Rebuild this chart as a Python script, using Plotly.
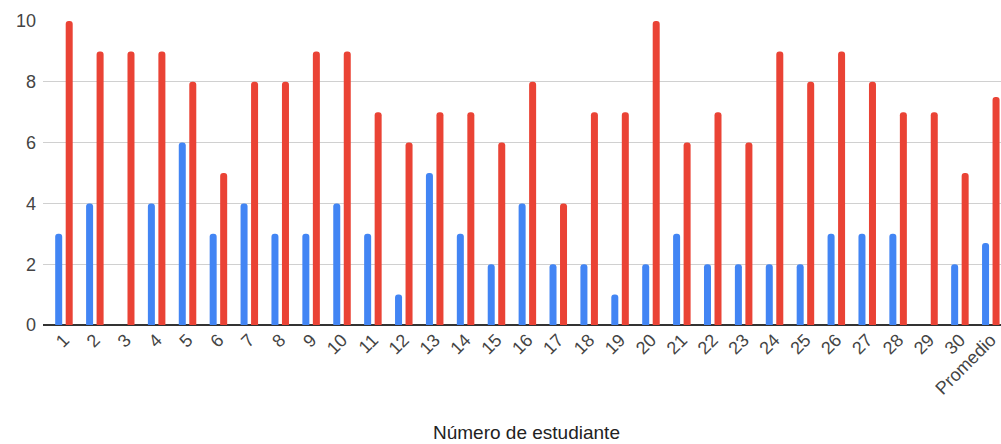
import plotly.graph_objects as go

# Student numbers plus the class average column
estudiantes = [str(i) for i in range(1, 31)] + ["Promedio"]

# Scores per student (two series)
serie_azul = [3, 4, 0, 4, 6, 3, 4, 3, 3, 4,
              3, 1, 5, 3, 2, 4, 2, 2, 1, 2,
              3, 2, 2, 2, 2, 3, 3, 3, 0, 2, 2.7]
serie_roja = [10, 9, 9, 9, 8, 5, 8, 8, 9, 9,
              7, 6, 7, 7, 6, 8, 4, 7, 7, 10,
              6, 7, 6, 9, 8, 9, 8, 7, 7, 5, 7.5]

y_ticks = [0, 2, 4, 6, 8, 10]

AZUL = "#4285F4"
ROJO = "#EA4335"

fig = go.Figure()
fig.add_trace(go.Bar(x=estudiantes, y=serie_azul, marker_color=AZUL,
                     marker_line_width=0, showlegend=False))
fig.add_trace(go.Bar(x=estudiantes, y=serie_roja, marker_color=ROJO,
                     marker_line_width=0, showlegend=False))

fig.update_layout(
    width=1001, height=444,
    margin=dict(l=43, r=0, t=21, b=119),
    paper_bgcolor="white", plot_bgcolor="white",
    barmode="group", bargap=0.32, bargroupgap=0.333,
    barcornerradius=3.5,
    font=dict(family="Arial, Liberation Sans, sans-serif", color="#444444"),
)

fig.update_xaxes(
    type="category",
    range=[-0.678, 30.33],
    tickangle=-45,
    tickfont=dict(size=18, color="#444444"),
    showgrid=False,
    showline=False,
    ticks="",
    zeroline=False,
)

fig.update_yaxes(
    range=[0, 10],
    tickvals=y_ticks,
    ticktext=[str(v) for v in y_ticks],
    tickfont=dict(size=18, color="#444444"),
    showgrid=True, gridcolor="#d0d0d0", gridwidth=1,
    zeroline=True, zerolinecolor="#333333", zerolinewidth=1.5,
    ticks="",
    ticklabelstandoff=6,
)

fig.add_annotation(
    text="Número de estudiante",
    xref="paper", yref="paper",
    x=0.505, y=-0.352,
    xanchor="center", yanchor="middle",
    showarrow=False,
    font=dict(size=19, color="#222222", family="Arial, Liberation Sans, sans-serif"),
)

fig.write_html("out.html")
